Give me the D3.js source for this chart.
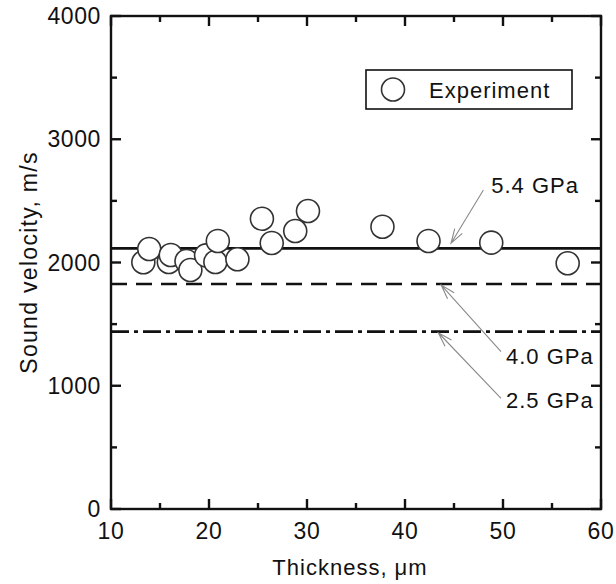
<!DOCTYPE html>
<html lang="en">

<head>
    <meta charset="UTF-8">
    <title>Sound velocity vs thickness</title>
    <script src="https://d3js.org/d3.v7.min.js"></script>
    <style>
        body {
            margin: 0;
            background: #fff;
        }

        text {
            font-family: "Liberation Sans", Arial, sans-serif;
            font-size: 22px;
            letter-spacing: 1px;
            fill: #111;
        }

        .ylab, .xlab {
            font-size: 23px;
            letter-spacing: 0.6px;
        }

        .ytitle {
            font-size: 23px;
            letter-spacing: 1.3px;
        }

        .frame {
            fill: none;
            stroke: #111;
            stroke-width: 2.4px;
        }

        .tick-mark {
            stroke: #111;
            stroke-width: 2.4px;
        }

        .ref-line {
            fill: none;
            stroke: #111;
            stroke-width: 2.6px;
        }

        .pointer {
            fill: none;
            stroke: #8a8a8a;
            stroke-width: 1.1px;
        }

        .exp {
            fill: #fff;
            stroke: #333;
            stroke-width: 1.6px;
        }
    </style>
</head>

<body>
    <svg id="chart"></svg>
    <script>
    // data
    const thickness = [13.3, 13.9, 15.9, 16.1, 17.7, 18.1, 19.7, 20.65, 20.9, 22.9,
                       25.4, 26.4, 28.8, 30.1, 37.7, 42.4, 48.8, 56.6];
    const velocity = [2002, 2110, 2004, 2061, 2012, 1939, 2058, 2004, 2175, 2026,
                      2355, 2158, 2256, 2418, 2290, 2175, 2161, 1994];

    // calculated levels for three pressures
    const pressures = ["5.4 GPa", "4.0 GPa", "2.5 GPa"];
    const levels = [2115, 1826, 1439];
    const dashes = ["none", "16,9", "18,5,4,5"];

    // annotation arrows, in data units: tail -> head, and label anchor
    const arrowTail = [[48.0, 2588], [49.8, 1276], [49.8, 898]];
    const arrowHead = [[44.7, 2156], [43.7, 1817], [43.4, 1430]];
    const labelPos = [[48.8, 2560], [50.3, 1180], [50.3, 817]];

    const xTicks = [10, 20, 30, 40, 50, 60];
    const yTicks = [0, 1000, 2000, 3000, 4000];

    const width = 616;
    const height = 584;
    const margin = { top: 16, right: 15, bottom: 75, left: 111 };

    const svg = d3.select("#chart")
        .attr("width", width)
        .attr("height", height);

    const x = d3.scaleLinear()
        .domain([10, 60])
        .range([margin.left, width - margin.right]);

    const y = d3.scaleLinear()
        .domain([0, 4000])
        .range([height - margin.bottom, margin.top]);

    const x0 = x.range()[0], x1 = x.range()[1];
    const y0 = y.range()[0], y1 = y.range()[1];

    // reference lines
    svg.selectAll(".ref-line")
        .data(levels)
        .enter().append("line")
        .attr("class", "ref-line")
        .attr("x1", x0)
        .attr("x2", x1)
        .attr("y1", d => y(d))
        .attr("y2", d => y(d))
        .attr("stroke-dasharray", (d, i) => dashes[i]);

    // experimental points
    svg.selectAll(".exp")
        .data(thickness)
        .enter().append("circle")
        .attr("class", "exp")
        .attr("cx", d => x(d))
        .attr("cy", (d, i) => y(velocity[i]))
        .attr("r", 11.5);

    // axes: ticks pointing inward on all four sides
    const major = 10, minor = 6;
    const xMinor = d3.range(15, 60, 10);
    const yMinor = d3.range(500, 4000, 1000);

    function tickLines(values, scale, len, horizontal) {
        values.forEach(v => {
            const p = scale(v);
            if (horizontal) {
                svg.append("line").attr("class", "tick-mark")
                    .attr("x1", p).attr("x2", p).attr("y1", y0).attr("y2", y0 - len);
                svg.append("line").attr("class", "tick-mark")
                    .attr("x1", p).attr("x2", p).attr("y1", y1).attr("y2", y1 + len);
            } else {
                svg.append("line").attr("class", "tick-mark")
                    .attr("y1", p).attr("y2", p).attr("x1", x0).attr("x2", x0 + len);
                svg.append("line").attr("class", "tick-mark")
                    .attr("y1", p).attr("y2", p).attr("x1", x1).attr("x2", x1 - len);
            }
        });
    }
    tickLines(xTicks, x, major, true);
    tickLines(xMinor, x, minor, true);
    tickLines(yTicks, y, major, false);
    tickLines(yMinor, y, minor, false);

    svg.append("rect")
        .attr("class", "frame")
        .attr("x", x0)
        .attr("y", y1)
        .attr("width", x1 - x0)
        .attr("height", y0 - y1);

    svg.selectAll(".xlab")
        .data(xTicks)
        .enter().append("text")
        .attr("class", "xlab")
        .attr("x", d => x(d))
        .attr("y", y0 + 30)
        .attr("text-anchor", "middle")
        .text(d => d);

    svg.selectAll(".ylab")
        .data(yTicks)
        .enter().append("text")
        .attr("class", "ylab")
        .attr("x", x0 - 10)
        .attr("y", d => y(d) + 8)
        .attr("text-anchor", "end")
        .text(d => d);

    svg.append("text")
        .attr("x", 350)
        .attr("y", 575)
        .attr("text-anchor", "middle")
        .text("Thickness, \u03bcm");

    svg.append("text")
        .attr("class", "ytitle")
        .attr("transform", `translate(37,${(y0 + y1) / 2}) rotate(-90)`)
        .attr("text-anchor", "middle")
        .text("Sound velocity, m/s");

    // pointer arrows with open heads
    arrowTail.forEach((t, i) => {
        const hx = x(arrowHead[i][0]), hy = y(arrowHead[i][1]);
        const tx = x(t[0]), ty = y(t[1]);
        const ang = Math.atan2(ty - hy, tx - hx);
        const len = 15, spread = 0.3;
        svg.append("path")
            .attr("class", "pointer")
            .attr("d", `M${tx},${ty}L${hx},${hy}` +
                `M${hx + len * Math.cos(ang - spread)},${hy + len * Math.sin(ang - spread)}L${hx},${hy}` +
                `L${hx + len * Math.cos(ang + spread)},${hy + len * Math.sin(ang + spread)}`);
        svg.append("text")
            .attr("x", x(labelPos[i][0]))
            .attr("y", y(labelPos[i][1]))
            .text(pressures[i]);
    });

    // legend
    const legend = svg.append("g").attr("transform", "translate(366,70)");
    legend.append("rect")
        .attr("width", 206)
        .attr("height", 39)
        .attr("fill", "#fff")
        .attr("stroke", "#111")
        .attr("stroke-width", 1.6);
    legend.append("circle")
        .attr("class", "exp")
        .attr("cx", 27)
        .attr("cy", 19.5)
        .attr("r", 11.5);
    legend.append("text")
        .attr("x", 63)
        .attr("y", 27.5)
        .text("Experiment");
    </script>
</body>

</html>
